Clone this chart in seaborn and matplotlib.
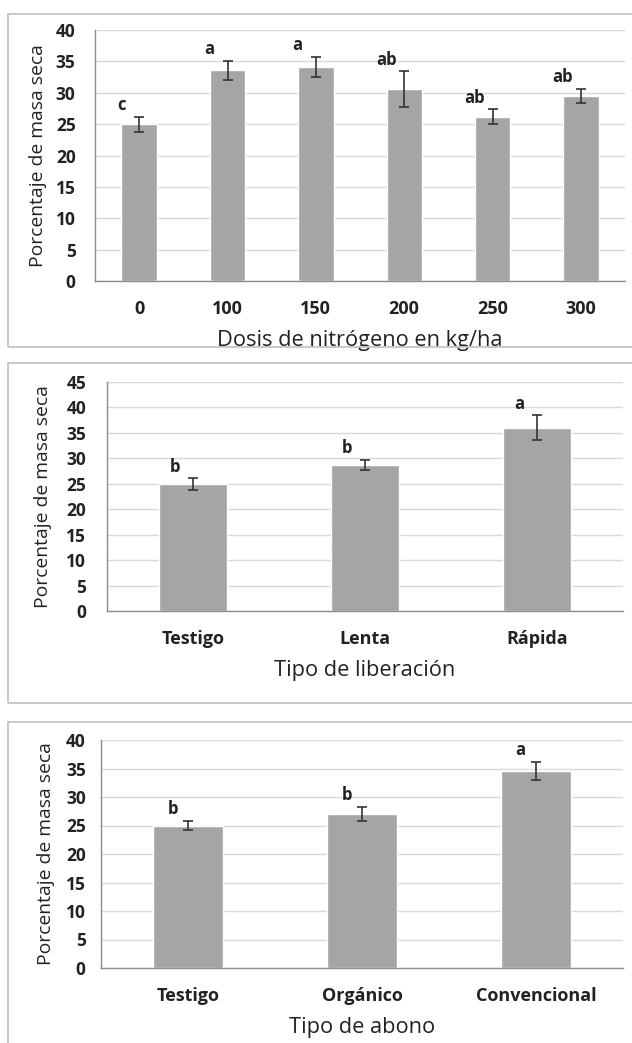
import matplotlib
matplotlib.use("Agg")
import matplotlib.pyplot as plt
import seaborn as sns
import pandas as pd
from matplotlib.patches import Rectangle

# Data
dosis = ["0", "100", "150", "200", "250", "300"]
dosis_mean = [25.0, 33.6, 34.1, 30.6, 26.2, 29.5]
dosis_err = [1.2, 1.5, 1.6, 2.8, 1.15, 1.1]
dosis_letters = ["c", "a", "a", "ab", "ab", "ab"]

liberacion = ["Testigo", "Lenta", "Rápida"]
liberacion_mean = [24.9, 28.7, 36.0]
liberacion_err = [1.15, 1.0, 2.45]
liberacion_letters = ["b", "b", "a"]

abono = ["Testigo", "Orgánico", "Convencional"]
abono_mean = [25.0, 27.0, 34.6]
abono_err = [0.8, 1.2, 1.55]
abono_letters = ["b", "b", "a"]

ylabel = "Porcentaje de masa seca"

sns.set_style("white")
plt.rcParams['font.family'] = ['Open Sans', 'DejaVu Sans']

BAR = "#a5a5a5"
GRID = "#d9d9d9"
SPINE = "#8c8c8c"
TXT = "#222222"

fig = plt.figure(figsize=(6.32, 10.43), dpi=100)
W, H = 632, 1043


def px_axes(left, top, right, bottom):
    return fig.add_axes([left / W, 1 - bottom / H, (right - left) / W, (bottom - top) / H])


def panel_box(x0, y0, x1, y1):
    fig.patches.append(Rectangle((x0 / W, 1 - y1 / H), (x1 - x0) / W, (y1 - y0) / H,
                                 transform=fig.transFigure, fill=False,
                                 edgecolor="#c4c4c4", linewidth=1.3))


def draw_panel(ax, cats, means, errs, letters, xlabel, ymax, dx, ypad, ylpad):
    df = pd.DataFrame({"cat": cats, "val": means})
    sns.barplot(data=df, x="cat", y="val", color=BAR, width=0.4,
                saturation=1, errorbar=None, ax=ax, zorder=2)
    xs = list(range(len(cats)))
    ax.errorbar(xs, means, yerr=errs, fmt="none", ecolor="#333333",
                elinewidth=1.2, capsize=3.5, capthick=1.2, zorder=3)
    for x, m, e, lab in zip(xs, means, errs, letters):
        ax.annotate(lab, (x, m + e), xytext=(-dx, 2), textcoords="offset points",
                    ha="center", va="bottom", fontsize=12, fontweight="bold", color=TXT)
    ax.set_ylim(0, ymax)
    ax.set_yticks(range(0, ymax + 1, 5))
    ax.set_xlim(-0.5, len(cats) - 0.5)
    ax.yaxis.grid(True, color=GRID, linewidth=1, zorder=0)
    ax.set_axisbelow(True)
    for s in ["top", "right"]:
        ax.spines[s].set_visible(False)
    for s in ["left", "bottom"]:
        ax.spines[s].set_color(SPINE)
        ax.spines[s].set_linewidth(1)
    ax.tick_params(axis="y", length=3, color=SPINE, pad=ypad, labelsize=12.5, labelcolor=TXT)
    ax.tick_params(axis="x", length=0, pad=14, labelsize=13, labelcolor=TXT)
    for t in ax.get_xticklabels() + ax.get_yticklabels():
        t.set_fontweight("bold")
    ax.set_xlabel(xlabel, fontsize=15.7, color=TXT, labelpad=8)
    ax.set_ylabel(ylabel, fontsize=13.9, color=TXT, labelpad=ylpad)


panel_box(8, 14, 660, 347)
panel_box(8, 363, 660, 703)
panel_box(8, 722, 660, 1060)

ax1 = px_axes(95, 30, 625, 281)
draw_panel(ax1, dosis, dosis_mean, dosis_err, dosis_letters,
           "Dosis de nitrógeno en kg/ha", 40, 13, 11, 6)

ax2 = px_axes(107, 382, 623, 611)
draw_panel(ax2, liberacion, liberacion_mean, liberacion_err, liberacion_letters,
           "Tipo de liberación", 45, 13, 12, 10)

ax3 = px_axes(101, 740, 623, 968)
draw_panel(ax3, abono, abono_mean, abono_err, abono_letters,
           "Tipo de abono", 40, 11, 8, 8)

fig.savefig("out.png", dpi=100, facecolor="white")
